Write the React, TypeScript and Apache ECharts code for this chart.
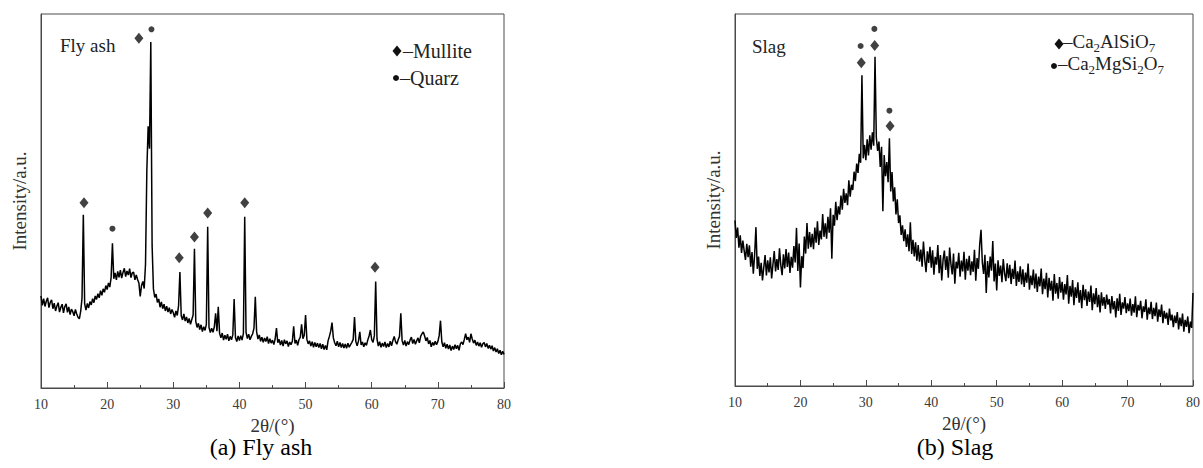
import React, { useEffect, useRef } from "react";
import * as echarts from "echarts";

// 2θ grid shared by both patterns (start and step, in degrees)
const X_START = 10;
const X_STEP = 0.2;
const X_TICKS = [10, 20, 30, 40, 50, 60, 70, 80];

// Fly ash intensity (a.u., 0-100 scale), 10.0° .. 80.0° every 0.2°
const flyAsh = [
  24.6, 22.1, 23.9, 21.8, 23.2, 24.1, 21.5, 22.9, 23.6, 21.2,
  22.7, 20.6, 21.9, 22.8, 20.3, 21.6, 22.4, 20.1, 21.8, 22.5,
  20.2, 21.7, 19.6, 21.1, 20.4, 19.3, 21.0, 19.8, 18.9, 18.5,
  20.5, 24.0, 46.3, 22.5, 20.8, 22.6, 21.4, 23.1, 22.2, 23.9,
  22.8, 24.6, 23.7, 25.2, 24.1, 26.0, 24.8, 26.5, 25.6, 27.4,
  26.3, 28.1, 27.0, 29.5, 38.7, 29.2, 30.8, 28.9, 31.2, 29.6,
  31.5, 29.4, 30.9, 32.0, 29.8, 31.3, 30.2, 31.9, 29.5, 30.8,
  31.0, 28.9, 30.2, 29.0, 28.1, 24.5, 27.4, 28.5, 26.6, 33.0,
  58.0, 70.0, 64.0, 92.5, 38.0, 26.5, 24.2, 25.1, 22.9, 23.8,
  21.6, 23.0, 21.2, 22.4, 20.6, 21.9, 20.3, 21.5, 19.8, 21.0,
  20.1, 18.9, 20.6, 19.4, 22.0, 31.0, 19.3, 18.2, 19.8, 17.9,
  19.0, 17.4, 18.6, 17.0, 18.3, 19.5, 37.2, 17.8, 16.2, 17.3,
  15.6, 16.9, 15.1, 16.4, 15.4, 17.0, 43.1, 16.2, 14.8, 16.0,
  14.9, 16.3, 20.0, 15.2, 21.7, 14.6, 13.4, 14.7, 12.8, 14.1,
  13.0, 14.4, 12.6, 13.8, 12.9, 14.2, 23.8, 13.5, 12.4, 13.9,
  12.7, 14.0, 12.8, 14.6, 45.8, 14.9, 13.2, 14.4, 12.9, 13.8,
  14.5, 16.0, 24.4, 15.0, 13.1, 14.2, 12.5, 13.6, 12.2, 13.4,
  12.4, 13.7, 11.9, 13.2, 12.0, 12.8, 11.6, 13.1, 16.0, 12.1,
  13.0, 11.5, 12.7, 11.2, 12.9, 11.8, 12.6, 11.1, 12.3, 11.6,
  12.5, 16.5, 11.9, 12.8, 11.4, 12.9, 13.6, 17.0, 13.2, 14.1,
  19.5, 13.0, 11.8, 12.6, 11.2, 12.4, 10.9, 12.2, 11.0, 12.0,
  10.8, 11.9, 10.5, 11.7, 10.3, 11.4, 10.2, 12.6, 13.8, 15.2,
  17.5, 13.4, 12.1, 11.3, 12.5, 11.0, 12.2, 10.8, 11.9, 10.7,
  11.8, 10.6, 12.0, 10.9, 11.6, 12.2, 13.0, 19.0, 12.4, 11.3,
  12.6, 15.0, 11.5, 12.3, 11.0, 12.1, 11.4, 12.8, 13.9, 15.5,
  12.9, 12.2, 14.0, 28.5, 13.1, 11.2, 12.4, 10.9, 12.0, 11.1,
  12.3, 10.8, 11.9, 11.0, 12.5, 11.3, 12.7, 13.8, 12.4, 11.7,
  12.9, 13.8, 20.0, 12.6, 11.5, 12.7, 11.2, 12.4, 11.6, 12.8,
  13.6, 11.9, 13.0, 11.7, 12.6, 13.4, 12.1, 13.8, 14.5, 15.0,
  13.9, 12.6, 13.5, 11.8, 12.7, 11.0, 12.2, 11.4, 12.5, 11.6,
  12.4, 14.0, 18.0, 12.3, 11.0, 12.1, 10.6, 11.7, 10.4, 11.5,
  10.0, 11.2, 10.3, 11.6, 10.5, 11.4, 10.1, 11.8, 12.3, 11.6,
  13.0, 14.5, 12.9, 13.6, 12.2, 14.5, 13.1, 12.0, 12.8, 11.4,
  12.3, 11.2, 12.1, 10.9, 11.8, 12.2, 11.0, 11.9, 10.6, 11.4,
  10.4, 11.3, 9.9, 10.8, 9.6, 10.5, 9.2, 10.1, 8.9, 9.8,
  9.0,
];

// Slag intensity (a.u., 0-100 scale), 10.0° .. 80.0° every 0.2°
const slag = [
  44.5, 39.8, 42.6, 37.2, 40.5, 35.8, 39.1, 36.4, 33.9, 38.2,
  34.6, 37.8, 32.1, 36.0, 30.2, 35.3, 42.7, 31.5, 34.8, 29.6,
  33.1, 28.4, 31.9, 35.2, 29.7, 33.8, 30.5, 34.6, 28.9, 32.7,
  36.3, 30.8, 34.1, 31.2, 37.0, 32.5, 29.8, 35.4, 31.6, 36.8,
  32.0, 35.9, 30.4, 34.7, 31.8, 37.6, 33.2, 42.5, 30.9, 38.3,
  26.5, 34.9, 31.7, 40.2, 35.6, 43.8, 36.9, 41.4, 37.3, 40.9,
  36.8, 42.6, 38.5, 44.3, 37.9, 41.8, 39.4, 46.2, 40.1, 43.7,
  39.6, 45.5, 41.2, 47.8, 34.2, 46.0, 43.1, 49.5, 44.6, 48.3,
  46.1, 51.2, 47.4, 53.0, 49.2, 51.8, 48.6, 55.3, 50.9, 54.1,
  52.7, 57.6, 55.1, 59.8, 57.3, 62.4, 60.0, 83.5, 61.2, 64.8,
  60.7, 66.3, 62.0, 67.4, 63.5, 68.2, 64.6, 88.5, 66.8, 63.2,
  65.7, 58.9, 64.3, 47.0, 62.1, 56.4, 60.2, 54.8, 66.6, 52.3,
  57.5, 49.6, 53.4, 46.1, 50.2, 43.8, 45.9, 40.6, 43.2, 38.9,
  42.1, 37.4, 40.8, 36.2, 44.0, 35.5, 39.3, 34.8, 38.6, 33.7,
  37.9, 33.4, 36.7, 32.1, 38.8, 34.0, 30.6, 36.2, 33.1, 37.4,
  31.8, 36.5, 29.9, 34.7, 32.6, 37.9, 30.3, 35.2, 28.4, 33.9,
  36.4, 31.2, 34.9, 29.1, 37.2, 32.8, 30.0, 35.6, 27.5, 33.4,
  31.6, 35.8, 29.4, 33.7, 30.8, 36.1, 28.6, 34.2, 31.0, 35.0,
  29.8, 33.5, 30.7, 36.6, 28.3, 34.4, 31.5, 38.0, 42.0, 33.2,
  30.1, 35.3, 25.0, 33.6, 29.2, 34.8, 31.0, 39.0, 28.1, 32.9,
  25.7, 33.8, 29.6, 32.4, 27.9, 34.1, 30.3, 28.2, 33.0, 29.0,
  32.6, 27.4, 31.5, 28.8, 33.7, 26.9, 30.8, 28.0, 32.2, 27.3,
  31.4, 26.6, 30.5, 27.8, 32.9, 25.9, 29.7, 27.1, 31.3, 26.2,
  30.2, 25.3, 29.4, 26.8, 31.6, 24.7, 28.9, 26.0, 30.4, 23.8,
  29.1, 25.6, 28.3, 22.9, 30.1, 24.8, 27.7, 23.5, 29.3, 25.1,
  28.0, 23.2, 27.4, 24.6, 29.8, 22.1, 26.9, 24.0, 28.5, 21.7,
  26.5, 23.7, 27.9, 22.4, 25.8, 20.9, 27.2, 23.1, 26.0, 21.5,
  25.4, 22.6, 27.0, 20.4, 24.9, 22.0, 26.3, 21.2, 24.5, 19.8,
  25.2, 21.6, 23.9, 20.7, 24.6, 21.9, 23.4, 19.5, 24.2, 20.6,
  22.8, 18.4, 23.6, 20.2, 24.8, 19.1, 22.5, 20.8, 23.9, 19.6,
  22.2, 20.1, 23.5, 18.9, 22.0, 19.7, 24.1, 18.5, 21.8, 20.3,
  22.9, 18.2, 21.4, 19.9, 23.3, 17.8, 21.1, 19.3, 22.6, 18.0,
  21.0, 18.8, 22.4, 17.3, 20.6, 18.6, 21.9, 16.9, 20.2, 18.1,
  19.7, 16.4, 20.8, 17.6, 19.2, 15.8, 18.9, 16.9, 19.9, 15.2,
  18.4, 16.1, 19.5, 14.6, 17.8, 15.9, 18.7, 14.2, 17.3, 15.6,
  25.0,
];

// Phase markers [2θ, height]
const flyMullite: [number, number][] = [
  [16.5, 49.5], [24.8, 93.5], [30.9, 34.8], [33.2, 40.4], [35.2, 46.8], [40.8, 49.5], [60.5, 32.3],
];
const flyQuartz: [number, number][] = [[20.8, 42.6], [26.7, 95.9]];
const slagAlSi: [number, number][] = [[29.3, 86.9], [31.35, 91.5], [33.7, 69.9]];
const slagMgSi: [number, number][] = [[29.2, 91.4], [31.3, 96.0], [33.6, 74.0]];

const SERIF = "'Liberation Serif', 'Times New Roman', serif";
const DIAMOND_SIZE: [number, number] = [9, 11];
const DOT_SIZE = 6;
const INK = "#111";
const TXT = "#222";

function toPairs(arr: number[]) {
  return arr.map((v, i) => [+(X_START + i * X_STEP).toFixed(1), v]);
}

function xAxis(gridIndex: number) {
  return {
    type: "value",
    gridIndex,
    min: X_TICKS[0],
    max: X_TICKS[X_TICKS.length - 1],
    interval: 10,
    name: "2θ/(°)",
    nameLocation: "middle",
    nameGap: 27,
    nameTextStyle: { fontFamily: SERIF, fontSize: 19, color: "#333" },
    axisLine: { show: true, lineStyle: { color: "#4a4a4a", width: 1 } },
    axisTick: { show: true, inside: true, length: 6, lineStyle: { color: "#4a4a4a" } },
    minorTick: { show: true, splitNumber: 2, length: 3, lineStyle: { color: "#4a4a4a" } },
    axisLabel: { fontFamily: SERIF, fontSize: 14, color: "#3a3a3a", margin: 9 },
    splitLine: { show: false },
    minorSplitLine: { show: false },
  };
}

function yAxis(gridIndex: number) {
  return {
    type: "value",
    gridIndex,
    min: 0,
    max: 100,
    name: "Intensity/a.u.",
    nameLocation: "middle",
    nameGap: 12,
    nameTextStyle: { fontFamily: SERIF, fontSize: 19, color: "#333" },
    axisLine: { show: true, lineStyle: { color: "#4a4a4a", width: 1 } },
    axisTick: { show: false },
    axisLabel: { show: false },
    splitLine: { show: false },
  };
}

const subRich = {
  n: { fontSize: 19, fontFamily: SERIF, fill: TXT, lineHeight: 15, verticalAlign: "bottom", padding: [0, 0, 3, 0] },
  s: { fontSize: 13, fontFamily: SERIF, fill: TXT, lineHeight: 18, verticalAlign: "bottom" },
};

function diamondPts(cx: number, cy: number): number[][] {
  return [[cx, cy - 5.5], [cx + 4.5, cy], [cx, cy + 5.5], [cx - 4.5, cy]];
}

export default function App() {
  const ref = useRef<HTMLDivElement>(null);
  useEffect(() => {
    if (!ref.current) return;
    const chart = echarts.init(ref.current, undefined, { renderer: "svg" });
    const markerSeries = (name: string, data: [number, number][], symbol: string, idx: number) => ({
      name,
      type: "scatter",
      xAxisIndex: idx,
      yAxisIndex: idx,
      data,
      symbol,
      symbolSize: symbol === "diamond" ? DIAMOND_SIZE : DOT_SIZE,
      itemStyle: { color: INK },
      z: 5,
      silent: true,
    });
    const lineSeries = (data: number[], idx: number, width: number) => ({
      type: "line",
      xAxisIndex: idx,
      yAxisIndex: idx,
      data: toPairs(data),
      symbol: "none",
      lineStyle: { color: "#000", width },
      silent: true,
    });
    chart.setOption({
      animation: false,
      backgroundColor: "#fff",
      grid: [
        { left: 41, right: 699, top: 14, bottom: 80, show: true, borderColor: "#4a4a4a", borderWidth: 1, containLabel: false },
        { left: 735, right: 6, top: 14, bottom: 82, show: true, borderColor: "#4a4a4a", borderWidth: 1, containLabel: false },
      ],
      xAxis: [xAxis(0), xAxis(1)],
      yAxis: [yAxis(0), yAxis(1)],
      graphic: [
        // panel labels
        { type: "text", x: 60, y: 45, style: { text: "Fly ash", font: `19px ${SERIF}`, fill: TXT, verticalAlign: "middle" } },
        { type: "text", x: 752, y: 46, style: { text: "Slag", font: `19px ${SERIF}`, fill: TXT, verticalAlign: "middle" } },
        // fly ash key
        { type: "polygon", shape: { points: diamondPts(397, 51) }, style: { fill: INK } },
        { type: "text", x: 403, y: 51, style: { text: "–Mullite", font: `20px ${SERIF}`, fill: TXT, verticalAlign: "middle" } },
        { type: "circle", shape: { cx: 396, cy: 78, r: 3 }, style: { fill: INK } },
        { type: "text", x: 400, y: 78, style: { text: "–Quarz", font: `20px ${SERIF}`, fill: TXT, verticalAlign: "middle" } },
        // slag key
        { type: "polygon", shape: { points: diamondPts(1059, 44) }, style: { fill: INK } },
        { type: "text", x: 1063, y: 45, style: { text: "{n|–Ca}{s|2}{n|AlSiO}{s|7}", rich: subRich, verticalAlign: "middle" } },
        { type: "circle", shape: { cx: 1054, cy: 66, r: 3 }, style: { fill: INK } },
        { type: "text", x: 1058, y: 67, style: { text: "{n|–Ca}{s|2}{n|MgSi}{s|2}{n|O}{s|7}", rich: subRich, verticalAlign: "middle" } },
        // captions
        { type: "text", x: 261, y: 447, style: { text: "(a) Fly ash", font: `24px ${SERIF}`, fill: "#000", align: "center", verticalAlign: "middle" } },
        { type: "text", x: 955, y: 447, style: { text: "(b) Slag", font: `24px ${SERIF}`, fill: "#000", align: "center", verticalAlign: "middle" } },
      ],
      series: [
        lineSeries(flyAsh, 0, 1.5),
        markerSeries("Mullite", flyMullite, "diamond", 0),
        markerSeries("Quarz", flyQuartz, "circle", 0),
        lineSeries(slag, 1, 1.5),
        markerSeries("Ca2AlSiO7", slagAlSi, "diamond", 1),
        markerSeries("Ca2MgSi2O7", slagMgSi, "circle", 1),
      ],
    });
    return () => chart.dispose();
  }, []);
  return (
    <div
      ref={ref}
      style={{ position: "fixed", left: 0, top: 0, width: 1203, height: 468, background: "#fff" }}
    />
  );
}
